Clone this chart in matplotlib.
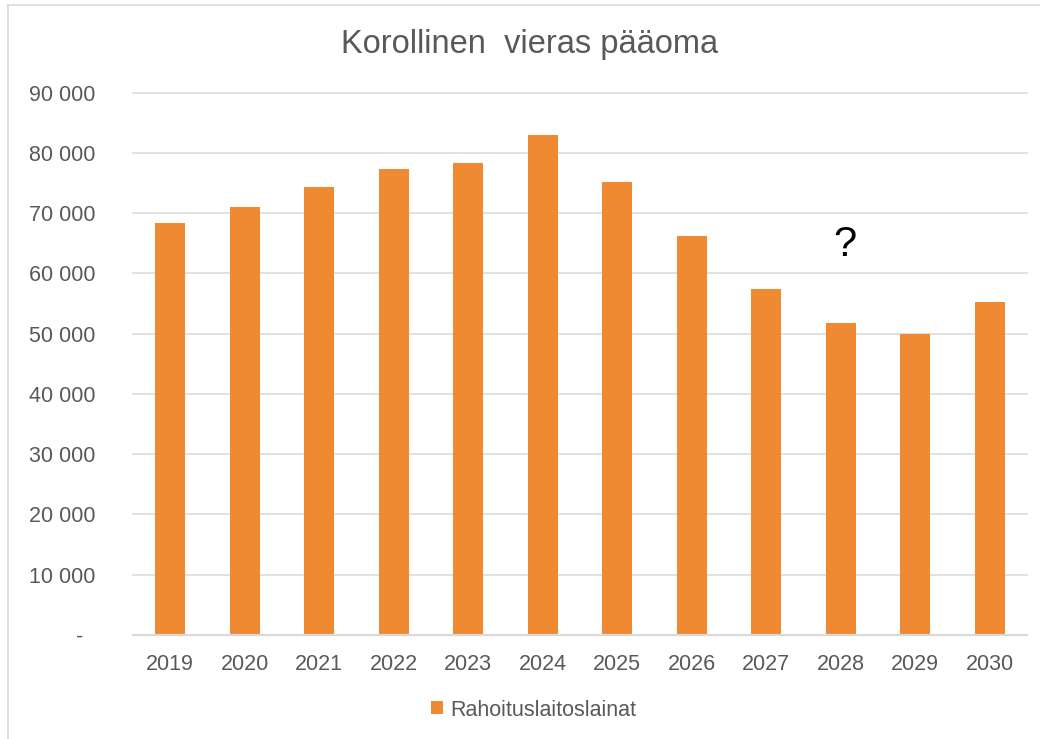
import numpy as np
import matplotlib
matplotlib.use('Agg')
import matplotlib.pyplot as plt
from matplotlib.lines import Line2D

# data
years = ['2019', '2020', '2021', '2022', '2023', '2024',
         '2025', '2026', '2027', '2028', '2029', '2030']
loans = [68400, 71000, 74300, 77300, 78300, 82900,
         75100, 66200, 57400, 51700, 50000, 55300]
series_name = 'Rahoituslaitoslainat'
title = 'Korollinen  vieras pääoma'
yticks = list(range(0, 90001, 10000))

plt.rcParams['font.family'] = ['Liberation Sans', 'DejaVu Sans']
grey_text = '#595959'
grid_col = '#d9d9d9'
bar_col = '#F08A32'

W, H = 1040, 739
fig = plt.figure(figsize=(W / 100, H / 100), dpi=100)
ax = fig.add_axes([133 / W, 1 - 635 / H, (1027 - 133) / W, (635 - 92.7) / H])

x = np.arange(len(years))
ax.bar(x, loans, width=0.4, color=bar_col, label=series_name, zorder=3)

ax.set_xlim(-0.5, len(years) - 0.5)
ax.set_ylim(0, 90000)
ax.set_xticks(x)
ax.set_xticklabels(years)
ax.set_yticks(yticks)


def fmt(v):
    if v == 0:
        return '-  '
    return '{:,}'.format(int(v)).replace(',', ' ')


ax.set_yticklabels([fmt(v) for v in yticks])
ax.tick_params(axis='both', length=0, labelsize=15.5, labelcolor=grey_text)
ax.tick_params(axis='y', pad=27)
ax.tick_params(axis='x', pad=14)

for s in ['left', 'right', 'top']:
    ax.spines[s].set_visible(False)
ax.spines['bottom'].set_color(grid_col)
ax.spines['bottom'].set_linewidth(1.6)
ax.spines['bottom'].set_zorder(4)
ax.yaxis.grid(True, color=grid_col, linewidth=1.1, zorder=0)
for gl in ax.get_ygridlines():
    gl.set_clip_on(False)

# question mark above 2028
ax.text(9.05, 64700, '?', fontsize=30, color='black', ha='center', va='center')

fig.text(0.509, 1 - 45 / H, title, fontsize=23.5, color=grey_text,
         ha='center', va='center')

fig.legend(loc='center', bbox_to_anchor=(534 / W, 1 - 710 / H), frameon=False,
           fontsize=15.5, labelcolor=grey_text, handlelength=0.55,
           handleheight=0.55, handletextpad=0.35)

# outer chart frame (top and left edge only visible)
fig.add_artist(Line2D([7.5 / W, 1], [1 - 4.5 / H, 1 - 4.5 / H], color=grid_col,
                      linewidth=1.2, transform=fig.transFigure))
fig.add_artist(Line2D([7.5 / W, 7.5 / W], [0, 1 - 4.5 / H], color=grid_col,
                      linewidth=1.2, transform=fig.transFigure))

fig.savefig('out.png', dpi=100, facecolor='white')
